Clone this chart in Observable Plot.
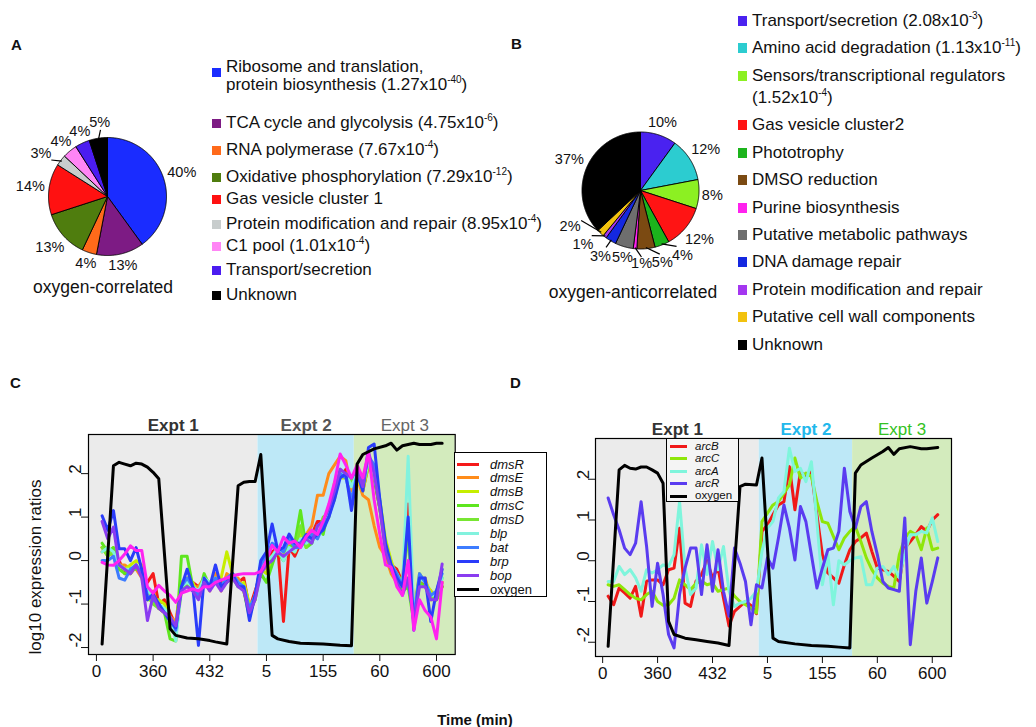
<!DOCTYPE html>
<html><head><meta charset="utf-8">
<script src="https://cdn.jsdelivr.net/npm/d3@7"></script>
<script src="https://cdn.jsdelivr.net/npm/@observablehq/plot@0.6"></script>
<style>
body{margin:0;background:#fff}
#root{position:relative;width:1036px;height:727px;overflow:hidden;background:#fff;font-family:"Liberation Sans",Arial,Helvetica,sans-serif;color:#111}
#root div{position:absolute;white-space:nowrap}
sup{font-size:10px;line-height:0;vertical-align:7px}
</style></head><body><div id="root"></div>
<script>
// ================= DATA =================
// Panel A: oxygen-correlated functional categories
const catsA = ["Ribosome and translation,\nprotein biosynthesis","TCA cycle and glycolysis","RNA polymerase","Oxidative phosphorylation","Gas vesicle cluster 1","Protein modification and repair","C1 pool","Transport/secretion","Unknown"];
const pctA = [40,13,4,13,14,3,4,4,5];
const pvalA = [[1.27,-40],[4.75,-6],[7.67,-4],[7.29,-12],null,[8.95,-4],[1.01,-4],null,null];
const labelA = "oxygen-correlated";

// Panel B: oxygen-anticorrelated functional categories
const catsB = ["Transport/secretion","Amino acid degradation","Sensors/transcriptional regulators\n","Gas vesicle cluster2","Phototrophy","DMSO reduction","Purine biosynthesis","Putative metabolic pathways","DNA damage repair","Protein modification and repair","Putative cell wall components","Unknown"];
const pctB = [10,12,8,12,4,5,1,5,3,1,2,37];
const pvalB = [[2.08,-3],[1.13,-11],[1.52,-4],null,null,null,null,null,null,null,null,null];
const labelB = "oxygen-anticorrelated";

// Panels C, D: time courses (x = sample index, labelled with minutes)
const xTickPos = [0,10,20,30,40,50,60];
const xTickLabels = ["0","360","432","5","155","60","600"];
const yTicks = [-2,-1,0,1,2];
const expts = ["Expt 1","Expt 2","Expt 3"];
const exptFirst = [1,29,46];
const exptLast = [28,45,61];
const timeIdx = d3.range(1,62);

const dmsR = [0.3,0.2,0.25,0.0,-0.3,-0.3,-0.15,-0.3,-0.5,-0.3,
 -1.0,-0.9,-1.2,-1.5,-0.5,-0.6,-0.5,-0.6,-0.5,-0.6,
 -0.4,-0.5,-0.5,-0.3,-0.5,-0.4,-1.1,-0.7,-0.3,0.0,
 0.2,0.3,-1.4,0.3,0.1,0.4,0.5,0.6,0.9,0.9,
 1.2,1.7,1.9,2.1,1.7,2.1,1.6,2.2,1.9,1.2,
 0.4,-0.1,-0.2,-0.5,1.3,-1.2,-0.4,-0.6,-0.7,-0.9,
 -0.6];
const dmsE = [0.2,0.3,0.1,-0.1,-0.1,-0.2,-0.2,-0.4,-0.9,-0.7,
 -1.1,-1.2,-1.3,-1.4,-0.5,-0.4,-0.6,-0.6,-0.4,-0.7,
 -0.3,-0.7,-0.3,-0.4,-0.4,-0.7,-1.2,-0.8,-0.1,-0.2,
 0.0,0.2,0.1,0.2,0.3,0.4,0.6,0.8,1.5,1.5,
 2.0,2.2,2.4,2.3,1.6,1.9,1.5,1.4,0.8,0.3,
 0.1,-0.3,-0.5,-0.7,-0.4,-1.1,-0.5,-0.4,-0.9,-0.7,
 -0.5];
const dmsB = [0.3,0.1,0.3,-0.1,-0.2,-0.1,0.0,-0.1,-0.8,-0.9,
 -0.9,-1.0,-1.3,-1.5,-0.6,-0.4,-0.5,-0.8,-0.4,-0.5,
 -0.5,-0.4,0.2,-0.3,-0.6,-0.5,-1.0,-0.9,-0.2,-0.3,
 0.1,0.2,0.1,0.4,0.2,0.6,0.5,0.5,0.6,0.9,
 1.0,1.8,1.9,1.9,1.7,1.9,1.6,2.2,2.0,1.4,
 0.5,0.0,-0.4,-0.5,-0.4,-1.2,-0.3,-0.5,-0.7,-0.9,
 -0.5];
const dmsC = [0.4,0.2,0.3,-0.2,-0.3,-0.2,-0.2,-0.2,-0.9,-0.9,
 -1.1,-1.2,-1.8,-1.85,0.1,0.1,-0.6,-0.8,-0.3,-0.6,
 -0.5,-0.6,-0.4,-0.3,-0.5,-0.7,-1.3,-0.8,-0.3,-0.5,
 -0.1,0.3,0.2,0.3,0.4,1.15,0.3,0.4,0.8,0.6,
 1.2,1.5,2.1,1.9,1.9,2.0,1.8,2.3,1.9,1.2,
 0.3,-0.2,-0.3,-0.7,-0.6,-1.4,-0.5,-0.6,-0.8,-0.9,
 -0.6];
const dmsD = [0.3,0.1,0.2,-0.1,-0.2,-0.3,-0.1,-0.3,-0.8,-1.0,
 -1.1,-1.1,-1.4,-1.7,-0.7,-0.5,-0.7,-0.7,-0.5,-0.6,
 -0.4,-0.6,-0.4,-0.4,-0.6,-0.6,-1.2,-0.9,-0.2,-0.1,
 0.1,0.2,0.0,0.3,0.2,0.8,0.3,0.6,0.6,1.0,
 1.1,1.4,2.0,2.0,1.8,2.0,1.7,2.2,2.1,1.3,
 0.4,-0.1,-0.3,-0.5,0.6,-1.3,-0.4,-0.5,-0.9,-0.8,
 -0.4];
const blp = [0.2,0.3,0.2,-0.1,-0.2,-0.2,-0.1,-0.2,-0.7,-0.8,
 -1.0,-1.1,-1.3,-1.85,-0.6,-0.5,-0.6,-0.7,-0.4,-0.5,
 -0.4,-0.6,-0.4,-0.3,-0.5,-0.6,-1.2,-0.8,-0.2,0.0,
 0.1,0.3,0.0,0.3,0.2,0.5,0.4,0.5,0.7,0.8,
 1.2,1.6,2.0,2.0,1.7,2.0,1.7,2.3,2.0,1.3,
 0.3,-0.1,-0.3,-0.6,2.4,-1.3,-0.4,-0.5,-0.8,-0.8,
 -0.4];
const bat = [0.0,0.0,0.1,-0.4,-0.45,-0.2,-0.1,-0.3,-0.8,-0.9,
 -1.0,-1.2,-1.3,-1.6,-0.6,-0.4,-0.6,-0.8,-0.5,-0.6,
 -0.4,-0.6,-0.4,-0.3,-0.5,-0.6,-1.1,-0.8,-0.1,0.1,
 0.4,0.3,0.2,0.5,0.3,0.3,0.5,0.6,0.5,0.8,
 1.0,1.5,2.0,1.9,1.4,2.0,1.8,2.4,2.2,1.4,
 0.3,-0.1,-0.3,-0.6,-0.5,-1.3,-0.3,-0.5,-0.8,-0.7,
 -0.3];
const brp = [1.03,0.7,1.15,0.27,0.27,0.0,0.3,-0.2,-0.9,-0.77,
 -1.0,-1.2,-1.4,-1.55,-0.6,-0.2,-0.6,-1.95,-0.4,-0.6,
 -0.1,-0.6,-0.5,-0.3,-0.6,-0.6,-1.38,-0.8,0.0,0.2,
 0.84,0.23,0.3,0.61,0.4,0.4,0.6,0.5,0.6,0.7,
 1.0,1.4,1.9,2.0,1.15,2.0,1.6,2.6,2.68,1.4,
 0.4,-0.1,-0.4,-0.6,1.0,-1.6,-0.4,-0.4,-1.4,-0.7,
 -0.2];
const bop = [0.9,0.5,0.77,-0.1,-0.2,-0.3,-0.1,-0.4,-1.38,-0.8,
 -1.1,-1.2,-1.3,-1.5,-0.7,-0.6,-0.7,-0.9,-0.5,-0.7,
 -0.5,-0.7,-0.5,-0.4,-0.6,-0.7,-1.2,-0.9,-0.3,-0.1,
 0.0,0.2,0.1,0.2,0.3,0.4,0.5,0.4,0.8,0.9,
 1.2,1.6,2.1,2.0,1.9,2.1,1.7,2.5,2.0,1.2,
 0.2,-0.2,-0.5,-0.8,-0.4,-1.4,-0.6,-0.6,-0.9,-0.9,
 -0.08];
const unlabeled = [-0.04,-0.1,-0.11,0.0,0.15,0.34,0.23,0.23,-0.6,-0.75,
 -0.57,-0.7,-0.8,-0.96,-0.75,-0.7,-0.65,-0.7,-0.6,-0.6,
 -0.5,-0.45,-0.4,-0.35,-0.32,-0.3,-0.3,-0.3,-0.25,0.0,
 0.35,0.2,0.54,0.4,0.45,0.3,0.55,0.7,0.6,0.9,
 1.3,1.8,2.45,2.2,1.9,2.2,1.9,2.5,1.4,0.6,
 -0.1,-0.15,-0.6,-0.8,0.0,-1.6,-0.9,-1.15,-1.3,-1.8,
 -0.5];
const oxyCIdx = [1,3,4,5,6,7,8,9,10,11,13,14,16,18,20,21,23,25,26,27,28,29,31,32,34,36,40,43,45,46,47,49,51,52,53,54,56,57,59,60,61];
const oxyC = [-1.92,2.18,2.26,2.22,2.18,2.24,2.22,2.15,2.03,1.88,-1.57,-1.72,-1.78,-1.8,-1.84,-1.87,-1.92,1.72,1.8,1.82,1.82,2.44,-1.72,-1.8,-1.86,-1.9,-1.92,-1.95,-1.96,2.22,2.44,2.57,2.64,2.7,2.54,2.64,2.7,2.67,2.67,2.7,2.7];

const arcB = [-0.87,-1.08,-0.67,-0.79,-0.92,-0.63,-1.36,-0.5,-0.47,-0.47,
 -0.59,-0.22,-0.18,0.8,-1.04,-1.12,-0.5,-0.34,0.0,-0.42,
 -0.18,-0.92,-1.6,-1.24,-1.12,-1.0,-1.1,-1.3,0.72,0.88,
 1.13,1.37,1.45,2.31,1.25,2.19,2.07,2.19,1.13,0.15,
 -0.3,-0.42,-0.55,-0.1,0.27,0.47,0.56,0.68,0.23,-0.18,
 -0.22,-0.26,-0.38,-0.51,0.31,0.47,0.64,0.84,0.72,1.0,
 1.13];
const arcC = [-0.59,-0.63,-0.59,-0.71,-0.83,-0.92,-0.96,-0.83,-0.75,-1.0,
 -1.09,-1.08,-0.92,-0.47,-0.59,-0.71,-0.55,-0.5,-0.59,-0.55,
 -0.75,-0.71,-0.67,-0.87,-1.0,-1.08,-1.16,-1.28,0.96,1.17,
 1.37,1.45,1.66,1.86,2.52,2.03,2.15,2.07,1.45,0.96,
 0.92,0.6,0.27,0.56,0.72,0.84,0.47,0.07,-0.22,-0.42,
 -0.55,-0.63,-0.67,0.15,0.56,0.72,0.64,0.27,0.8,0.27,
 0.31];
const arcA = [-0.51,-0.51,-0.14,-0.34,-0.22,-0.42,-0.75,-0.22,-0.3,-0.22,
 -0.1,-0.14,0.15,1.45,-0.18,-0.83,-0.67,0.39,-0.34,0.47,
 -0.22,0.35,-0.75,-1.12,-1.04,-1.0,-0.92,-0.75,0.23,0.8,
 0.96,1.54,1.7,2.76,2.19,2.27,1.94,2.43,0.96,-0.59,
 0.15,-1.08,0.0,-0.1,0.0,0.07,0.1,-0.59,-0.59,-0.18,
 -0.14,-0.34,-0.14,-0.42,0.19,0.64,0.64,0.72,0.68,1.05,
 0.47];
const arcR = [1.54,1.13,0.76,0.31,0.15,0.43,1.45,0.35,-1.12,-0.06,
 -0.83,-1.81,-2.14,-0.83,-0.18,0.31,0.31,-0.83,0.39,-0.75,
 0.27,-0.75,-1.36,0.31,-0.06,-0.51,-1.57,-0.59,-0.67,0.07,
 -0.18,0.56,1.37,0.8,0.02,1.33,0.96,0.15,-0.67,-0.18,
 0.27,0.31,0.72,2.27,1.21,0.8,1.33,1.45,0.72,0.15,
 -0.51,-0.67,-0.71,-0.75,1.05,-2.06,-0.75,0.07,-1.04,-0.51,
 0.07];
const oxyDIdx = [1,3,4,5,6,7,8,9,10,11,12,13,15,17,19,21,23,25,26,28,29,31,32,35,38,41,43,45,46,47,49,51,52,53,54,56,58,59,61];
const oxyD = [-2.1,2.23,2.34,2.27,2.25,2.3,2.3,2.23,2.15,1.9,-1.49,-1.81,-1.9,-1.94,-1.98,-2.02,-2.08,1.82,1.88,1.86,2.52,-1.9,-1.98,-2.04,-2.08,-2.1,-2.12,-2.14,2.15,2.35,2.52,2.68,2.78,2.61,2.75,2.8,2.75,2.75,2.78];

// ================= STYLE =================
const FONT = '"Liberation Sans", Arial, Helvetica, sans-serif';
const colA = ["#1a2cff","#7d1b84","#ff6a1a","#4f7d0e","#ff1111","#c8cdcd","#ff85f5","#4b1cf0","#000000"];
const colB = ["#4a22f0","#2cccd0","#8cf022","#ff1414","#1cb41c","#7b4a12","#ff22ee","#6e6e6e","#1428e0","#a436f0","#f2c20e","#000000"];
const seriesC = [
  {name:"dmsR", t:timeIdx, v:dmsR, color:"#f51a1a"},
  {name:"dmsE", t:timeIdx, v:dmsE, color:"#ff8c1a"},
  {name:"dmsB", t:timeIdx, v:dmsB, color:"#c6ee00"},
  {name:"dmsC", t:timeIdx, v:dmsC, color:"#5ee61e"},
  {name:"dmsD", t:timeIdx, v:dmsD, color:"#78e632"},
  {name:"blp",  t:timeIdx, v:blp,  color:"#82f2de"},
  {name:"bat",  t:timeIdx, v:bat,  color:"#3d7cff"},
  {name:"brp",  t:timeIdx, v:brp,  color:"#2a3cfa"},
  {name:"bop",  t:timeIdx, v:bop,  color:"#8a3cf0"},
  {name:null,   t:timeIdx, v:unlabeled, color:"#ff22f0"},
  {name:"oxygen", t:oxyCIdx, v:oxyC, color:"#000000"}
];
const seriesD = [
  {name:"arcB", t:timeIdx, v:arcB, color:"#f01818"},
  {name:"arcC", t:timeIdx, v:arcC, color:"#8ee60a"},
  {name:"arcA", t:timeIdx, v:arcA, color:"#7ff5dc"},
  {name:"arcR", t:timeIdx, v:arcR, color:"#5a3cf0"},
  {name:"oxygen", t:oxyDIdx, v:oxyD, color:"#000000"}
];
const exptFill = ["#ebebeb","#bde8f7","#d3ebbd"];
const exptTitleC = [{c:"#333",w:"bold"},{c:"#555",w:"bold"},{c:"#666",w:"normal"}];
const exptTitleD = [{c:"#333",w:"bold"},{c:"#22b8ec",w:"bold"},{c:"#33c222",w:"normal"}];

// ================= HELPERS =================
const root = document.getElementById("root");
function el(css, html){ const e=document.createElement("div"); e.style.cssText=css; if(html!=null) e.innerHTML=html; root.appendChild(e); return e; }
function place(node, left, top){ const w=document.createElement("div"); w.style.cssText=`left:${left}px;top:${top}px`; w.appendChild(node); root.appendChild(w); return w; }
function pstr(p){ return p ? ` (${p[0].toFixed(2)}x10<sup>${p[1]}</sup>)` : ""; }

function spread(a0, sep){
  const a=a0.slice();
  for(let it=0; it<400; it++){
    let moved=false;
    for(let i=1;i<a.length;i++){ const d=a[i]-a[i-1]; if(d<sep-1e-6){ const s=(sep-d)/2; a[i-1]-=s; a[i]+=s; moved=true; } }
    if(!moved) break;
  }
  return a;
}

function pieChart(pcts, colors, r, W, H, sep){
  const arcs = d3.pie().sort(null).value(d=>d)(pcts);
  const poly=[];
  arcs.forEach((a,k)=>{
    poly.push({k,x:0,y:0,c:colors[k]});
    const n=Math.max(2,Math.ceil((a.endAngle-a.startAngle)/(Math.PI/360)));
    for(let j=0;j<=n;j++){ const t=a.startAngle+(a.endAngle-a.startAngle)*j/n; poly.push({k,x:Math.sin(t),y:Math.cos(t),c:colors[k]}); }
    poly.push({k,x:0,y:0,c:colors[k]});
  });
  const fs=14.5;
  const mids=arcs.map(a=>(a.startAngle+a.endAngle)/2*180/Math.PI);
  const la=spread(mids, sep);
  const labels=arcs.map((a,k)=>{
    const txt=pcts[k]+"%";
    const w=txt.length*0.7*fs, h=0.72*fs;
    const t=la[k]*Math.PI/180, m=mids[k]*Math.PI/180;
    const leader=Math.abs(la[k]-mids[k])>2.5 || pcts[k]<=3;
    const d=r+3+(leader?6:0)+w/2*Math.abs(Math.sin(t))+h/2*Math.abs(Math.cos(t));
    return {x:d*Math.sin(t)/r, y:d*Math.cos(t)/r, text:txt, leader, t, m};
  });
  const leaders=labels.filter(l=>l.leader).map(l=>({x1:Math.sin(l.m)*0.98,y1:Math.cos(l.m)*0.98,x2:Math.sin(l.t)*(r+8)/r,y2:Math.cos(l.t)*(r+8)/r}));
  return Plot.plot({
    width:W, height:H, margin:0,
    x:{domain:[-W/2/r, W/2/r], axis:null},
    y:{domain:[-H/2/r, H/2/r], axis:null},
    color:{type:"identity"},
    style:{fontFamily:FONT, background:"transparent", overflow:"visible"},
    marks:[
      Plot.line(poly,{x:"x",y:"y",z:"k",fill:"c",stroke:"#000",strokeWidth:0.9,strokeLinejoin:"miter"}),
      Plot.link(leaders,{x1:"x1",y1:"y1",x2:"x2",y2:"y2",stroke:"#000",strokeWidth:1.2}),
      Plot.text(labels,{x:"x",y:"y",text:"text",fontSize:fs,fill:"#111"})
    ]
  });
}

function tsChart(series, W, H, m, xDom, yDom, titles, yLabDx){
  const rects = expts.map((e,k)=>({
    x1: k===0 ? xDom[0] : exptFirst[k]-0.5,
    x2: k===expts.length-1 ? xDom[1] : exptLast[k]+0.5,
    fill: exptFill[k], name:e, color: titles[k].c, weight: titles[k].w
  }));
  rects.forEach(r=>r.cx=(r.x1+r.x2)/2);
  const lines = series.map(s=>Plot.line(s.t.map((t,j)=>({i:t, v:s.v[j]})),{x:"i",y:"v",stroke:s.color,strokeWidth:3}));
  return Plot.plot({
    width:W, height:H, marginLeft:m[0], marginRight:m[1], marginTop:m[2], marginBottom:m[3],
    x:{domain:xDom}, y:{domain:yDom},
    color:{type:"identity"},
    style:{fontFamily:FONT, fontSize:"17px", color:"#111", background:"transparent", overflow:"visible"},
    marks:[
      Plot.rect(rects,{x1:"x1",x2:"x2",fill:"fill"}),
      ...lines,
      Plot.frame({stroke:"#000",strokeWidth:1.2}),
      Plot.axisX({ticks:xTickPos, tickFormat:d=>xTickLabels[xTickPos.indexOf(d)], tickSize:7, tickPadding:3, fontSize:17, label:null}),
      Plot.axisY({ticks:yTicks, tickFormat:()=>"", tickSize:7, label:null}),
      Plot.text(yTicks,{y:d=>d, frameAnchor:"left", dx:yLabDx, rotate:-90, text:d=>String(d), fontSize:17, fill:"#111"}),
      Plot.text(rects.filter(r=>r.weight==="bold"),{x:"cx", text:"name", frameAnchor:"top", lineAnchor:"bottom", dy:-4, fill:"color", fontSize:17, fontWeight:"bold"}),
      Plot.text(rects.filter(r=>r.weight!=="bold"),{x:"cx", text:"name", frameAnchor:"top", lineAnchor:"bottom", dy:-4, fill:"color", fontSize:17})
    ]
  });
}

// ================= PANEL LETTERS =================
[["A",11,37],["B",511,36],["C",10,375],["D",510,375]].forEach(([t,x,y])=>el(`left:${x}px;top:${y}px;font-weight:bold;font-size:15px;line-height:15px`, t));

// ================= PANEL A =================
const rA=59, cxA=107, cyA=196;
place(pieChart(pctA, colA, rA, 220, 200, 17), cxA-110, cyA-100);
el(`left:103px;top:288px;transform:translate(-50%,-50%);font-size:17.5px;line-height:1`, labelA);
const legYA=[67,123,150,177,199,224,246,270,295];
catsA.forEach((c,k)=>{
  const multi=c.includes("\n");
  el(`left:212px;top:${legYA[k]-4.5+(multi?5:0)}px;width:9px;height:9px;background:${colA[k]}`);
  el(`left:226px;top:${legYA[k]-9}px;font-size:17px;line-height:18px`, c.replace("\n","<br>")+pstr(pvalA[k]));
});

// ================= PANEL B =================
const rB=58.5, cxB=640, cyB=189.5;
place(pieChart(pctB, colB, rB, 220, 220, 16), cxB-110, cyB-110);
el(`left:633px;top:293px;transform:translate(-50%,-50%);font-size:17.5px;line-height:1`, labelB);
const legYB=[21,48,76,125,153,180,208,235,262,290,317,345];
catsB.forEach((c,k)=>{
  el(`left:738px;top:${legYB[k]-5}px;width:9px;height:10px;background:${colB[k]}`);
  el(`left:752px;top:${legYB[k]-11}px;font-size:17px;line-height:22px`, c.replace("\n","<br>")+pstr(pvalB[k]));
});

// ================= PANEL C =================
place(tsChart(seriesC, 470, 300, [88,15.3,54,26], [-1.4,63.3], [-2.16,2.9], exptTitleC, -13), 0, 380);
el(`left:35px;top:567px;transform:translate(-50%,-50%) rotate(-90deg);font-size:17px;line-height:1`, "log10 expression ratios");
{
  const box=el(`left:454px;top:452px;width:91px;height:143px;border:1.5px solid #000;background:#fff`);
  const items=seriesC.filter(s=>s.name);
  items.forEach((s,k)=>{
    const y=11+13.9*k;
    const sw=document.createElement("div"); sw.style.cssText=`left:2px;top:${y-1.5}px;width:22px;height:3px;background:${s.color}`; box.appendChild(sw);
    const tx=document.createElement("div"); tx.style.cssText=`left:35px;top:${y-6.5}px;font-size:13px;line-height:13px;${s.name==="oxygen"?"":"font-style:italic"}`; tx.textContent=s.name; box.appendChild(tx);
  });
}

// ================= PANEL D =================
place(tsChart(seriesD, 450, 300, [85,9,58,24], [-1.3,63.5], [-2.35,3.0], exptTitleD, -12), 510, 380);
{
  const box=el(`left:666px;top:438px;width:71px;height:62px;border:1.5px solid #000;background:#f4f4f4`);
  seriesD.forEach((s,k)=>{
    const y=7.5+12.4*k;
    const sw=document.createElement("div"); sw.style.cssText=`left:3px;top:${y-1.5}px;width:17px;height:3px;background:${s.color}`; box.appendChild(sw);
    const tx=document.createElement("div"); tx.style.cssText=`left:28px;top:${y-5.8}px;font-size:11.5px;line-height:11.6px;${s.name==="oxygen"?"":"font-style:italic"}`; tx.textContent=s.name; box.appendChild(tx);
  });
}

// ================= SHARED X LABEL =================
el(`left:475px;top:719px;transform:translate(-50%,-50%);font-size:15px;font-weight:bold;line-height:1`, "Time (min)");
</script></body></html>
